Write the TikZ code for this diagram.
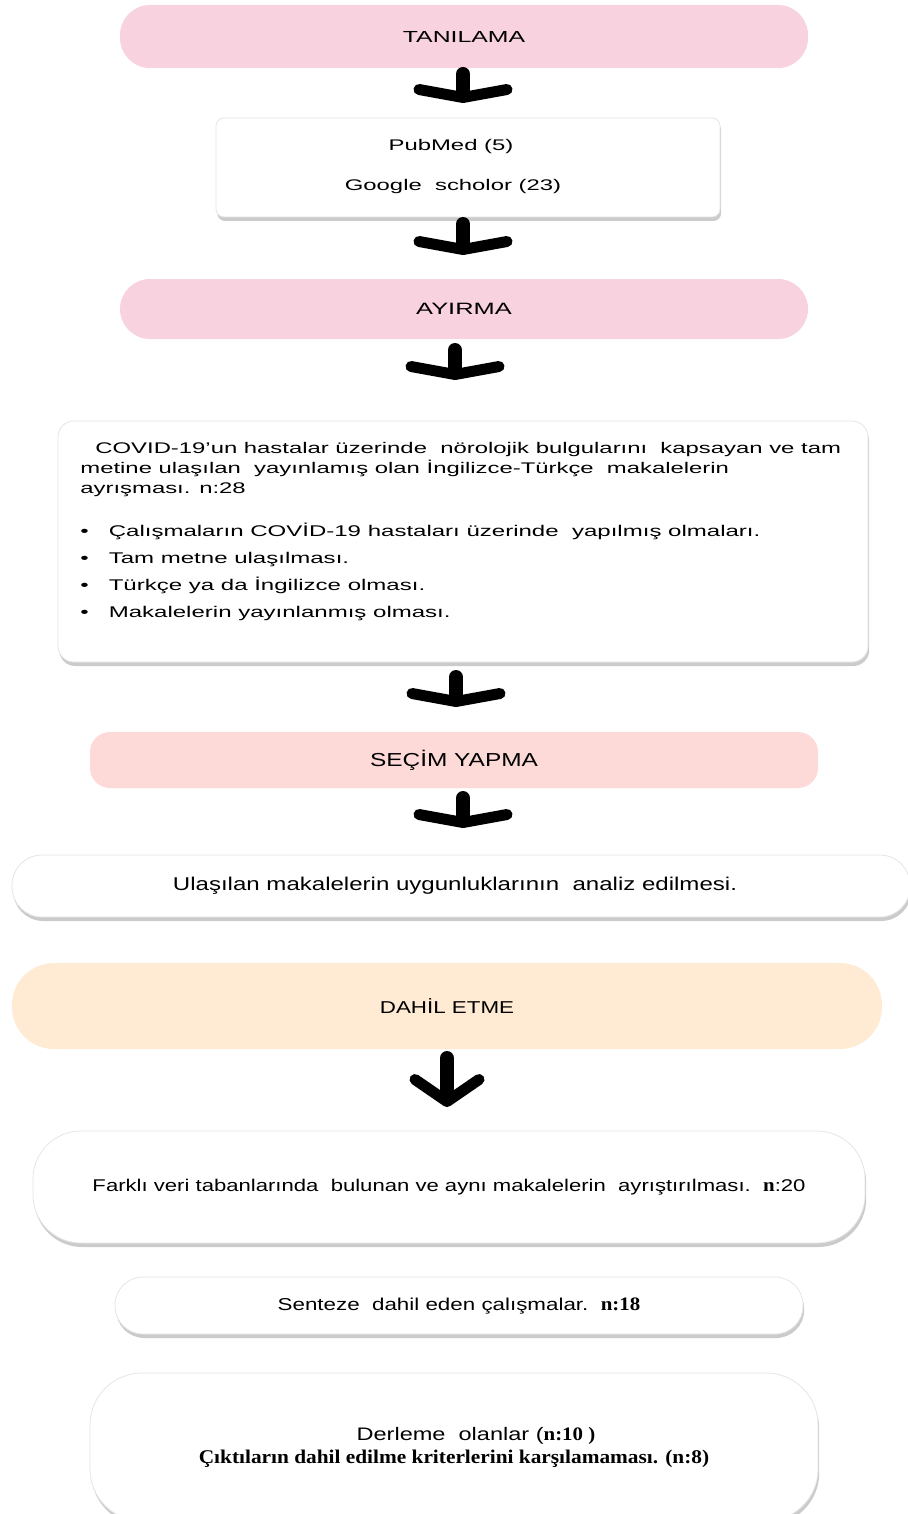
\documentclass[tikz,border=0pt]{standalone}
\usepackage{fontspec}
\usepackage{tikz}
\usetikzlibrary{arrows.meta,shadows}
\setmainfont{Liberation Sans}[FakeStretch=1.55]
\newfontfamily\lowfont{Liberation Sans}[FakeStretch=1.3]
\newfontfamily\bserif{Liberation Serif}[FakeStretch=1.1]
\definecolor{pinkphase}{RGB}{249,210,223}
\definecolor{rosephase}{RGB}{253,218,216}
\definecolor{peachphase}{RGB}{255,234,212}

\tikzset{
  phase/.style={rounded corners=#1, inner sep=0pt, align=center},
  card/.style={fill=white, draw=black!10, line width=0.4pt, rounded corners=#1, inner sep=0pt, align=center,
    drop shadow={shadow xshift=0.6pt, shadow yshift=-2pt, fill=black!45, opacity=0.45}},
  bigarrow/.style={line width=7pt, line cap=round,
    -{Straight Barb[length=4pt, width=44pt, line width=5.5pt, round]}},
  txt/.style={font=\fontsize{#1}{10}\selectfont},
  txt/.default=7.2,
  lowtxt/.style={font=\lowfont\fontsize{#1}{10}\selectfont}
}

\begin{document}
\begin{tikzpicture}[x=0.5pt, y=-0.5pt]
    \useasboundingbox (0,0) rectangle (908,1514);
    % Phase headers and boxes
    \node[phase=15pt, fill=pinkphase, minimum width=344pt, minimum height=31.5pt, txt=8] (tan) at (464,36.5) {TANILAMA};
    \node[card=4pt, minimum width=252pt, minimum height=49.5pt] (pub) at (468,167.5) {};
    \node[txt=7.7] (pubmed) at (451,147) {PubMed (5)};
    \node[txt=7.7] (scholar) at (453,187) {Google\ \ scholor (23)};
    \node[phase=15pt, fill=pinkphase, minimum width=344pt, minimum height=30pt, txt=8.2] (ayr) at (464,309) {AYIRMA};
    \node[card=8pt, minimum width=405pt, minimum height=120.5pt] (crit) at (463,541.5) {};
    \node[txt=7.7, anchor=north west, align=left, inner sep=0pt] (critpar) at (80,442)
      {\hspace*{7.5pt}COVID-19'un hastalar üzerinde\ \ nörolojik bulgularını\ \ kapsayan ve tam\\
       metine ulaşılan\ \ yayınlamış olan İngilizce-Türkçe\ \ makalelerin\\
       ayrışması. n:28};
    \node[anchor=west, inner sep=0pt, font=\fontsize{7.75}{13.5}\selectfont, align=left] (critlist) at (80,572)
      {\textbullet\hspace{10pt}Çalışmaların COVİD-19 hastaları üzerinde\ \ yapılmış olmaları.\\
       \textbullet\hspace{10pt}Tam metne ulaşılması.\\
       \textbullet\hspace{10pt}Türkçe ya da İngilizce olması.\\
       \textbullet\hspace{10pt}Makalelerin yayınlanmış olması.};
    \node[phase=10pt, fill=rosephase, minimum width=364pt, minimum height=28pt, lowtxt=9.4] (sec) at (454,760) {SEÇİM YAPMA};
    \node[card=15pt, minimum width=449pt, minimum height=31pt, lowtxt=9.25] (ula) at (461,886) {\hspace*{-6pt}Ulaşılan makalelerin uygunluklarının\ \ analiz edilmesi.};
    \node[phase=21pt, fill=peachphase, minimum width=435pt, minimum height=43pt, lowtxt=8.6] (dah) at (447,1006) {DAHİL ETME};
    \node[card=24pt, minimum width=416pt, minimum height=56pt, lowtxt=8.5] (far) at (449,1187)
      {Farklı veri tabanlarında\ \ bulunan ve aynı makalelerin\ \ ayrıştırılması.\ \ {\bserif\bfseries\fontsize{9.5}{10}\selectfont n}:20};
    \node[card=14pt, minimum width=344pt, minimum height=28.5pt, lowtxt=8.6] (sen) at (459,1305.5)
      {Senteze\ \ dahil eden çalışmalar.\ \ {\bserif\bfseries\fontsize{9.5}{10}\selectfont n:18}};
    \node[card=26pt, minimum width=364pt, minimum height=74pt, font=\lowfont\fontsize{9.05}{11.5}\selectfont] (der) at (454,1447)
      {\hspace*{22pt}Derleme\ \ olanlar ({\bserif\bfseries\fontsize{9.5}{10}\selectfont n:10 )}\\
       {\bserif\bfseries\fontsize{9.7}{10}\selectfont Çıktıların dahil edilme kriterlerini karşılamaması. (n:8)}};
    % Arrow ends
    \coordinate (a1t) at (463,74);   \coordinate (a1b) at (463,103);
    \coordinate (a2t) at (463,224);  \coordinate (a2b) at (463,255);
    \coordinate (a3t) at (455,350);  \coordinate (a3b) at (455,380);
    \coordinate (a4t) at (456,677);  \coordinate (a4b) at (456,707);
    \coordinate (a5t) at (463,798);  \coordinate (a5b) at (463,828);
    \coordinate (a6t) at (447,1058); \coordinate (a6b) at (447,1107);
    % Arrows
    \draw[bigarrow] (a1t) -- (a1b);
    \draw[bigarrow] (a2t) -- (a2b);
    \draw[bigarrow] (a3t) -- (a3b);
    \draw[bigarrow] (a4t) -- (a4b);
    \draw[bigarrow] (a5t) -- (a5b);
    \draw[line width=7pt, line cap=round,
      -{Straight Barb[length=11pt, width=32pt, line width=5.5pt, round]}] (a6t) -- (a6b);
\end{tikzpicture}
\end{document}
